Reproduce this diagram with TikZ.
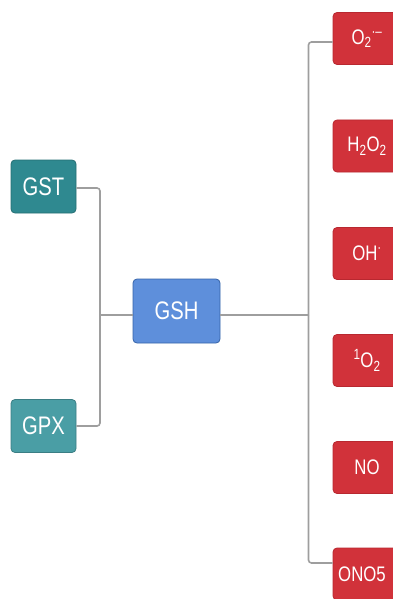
\documentclass[tikz,border=0pt]{standalone}
\usepackage{fontspec}
\setmainfont{Liberation Sans}
\usetikzlibrary{calc}
\definecolor{gstc}{HTML}{2F8990}
\definecolor{gpxc}{HTML}{4A9EA5}
\definecolor{gshc}{HTML}{5E8FDB}
\definecolor{gshb}{HTML}{3563A8}
\definecolor{redc}{HTML}{D1323A}
\definecolor{redb}{HTML}{B82830}
\definecolor{linec}{HTML}{9E9E9E}
\newcommand{\cnd}[1]{\scalebox{0.86}[1.08]{#1}}
\begin{document}
\begin{tikzpicture}[x=1pt,y=-1pt,
  box/.style={rectangle, rounded corners=4pt, inner sep=0pt, text=white, line width=0.8pt},
  leftbox/.style={box, minimum width=65pt, minimum height=53pt, font=\fontsize{23.5}{26}\selectfont},
  redbox/.style={box, fill=redc, draw=redb, minimum width=68pt, minimum height=52pt, font=\fontsize{19.5}{22}\selectfont},
  conn/.style={draw=linec, line width=1.6pt, rounded corners=3pt}]
\useasboundingbox (0,0) rectangle (393,599);
\clip (0,0) rectangle (393,599);
% left
\node[leftbox, fill=gstc, draw=gstc!80!black] (gst) at (43.5,186.5) {\cnd{GST}};
\node[leftbox, fill=gpxc, draw=gpxc!80!black] (gpx) at (43.5,426) {\cnd{GPX}};
\node[box, fill=gshc, draw=gshb, minimum width=87pt, minimum height=64pt, font=\fontsize{23.5}{26}\selectfont] (gsh) at (176.5,311) {\cnd{GSH}};
% right
\node[redbox] (o2) at (367,38.5) {\cnd{O\textsubscript{2}\textsuperscript{·–}}};
\node[redbox] (h2o2) at (367,146) {\cnd{H\textsubscript{2}O\textsubscript{2}}};
\node[redbox] (oh) at (367,253.5) {\cnd{OH\textsuperscript{·}}};
\node[redbox] (so2) at (367,360.5) {\cnd{\textsuperscript{1}O\textsubscript{2}}};
\node[redbox] (no) at (367,467.5) {\cnd{NO}};
\node[redbox] (ono) at (367,574) {\hspace*{-10pt}\cnd{ONO5}};
% connectors left
\coordinate (lj) at (100,315);
\coordinate (rj) at (308.5,315);
\draw[conn] ($(gst.east)+(0,1.5)$) -| (lj);
\draw[conn] (gpx.east) -| (lj);
\draw[conn] (lj) -- (lj -| gsh.west);
\draw[conn] (rj -| gsh.east) -- (rj);
% connectors right
\draw[conn] ($(o2.west)+(0,3.5)$) -| (rj);
\draw[conn] ($(ono.west)+(0,-11)$) -| (rj);
\draw[conn] ($(h2o2.west)+(0,-1)$) -- ($(h2o2.west)+(0,-1)$ -| rj);
\draw[conn] ($(oh.west)+(0,2.5)$) -- ($(oh.west)+(0,2.5)$ -| rj);
\draw[conn] ($(so2.west)+(0,-1.5)$) -- ($(so2.west)+(0,-1.5)$ -| rj);
\draw[conn] ($(no.west)+(0,-5.5)$) -- ($(no.west)+(0,-5.5)$ -| rj);
\end{tikzpicture}
\end{document}
